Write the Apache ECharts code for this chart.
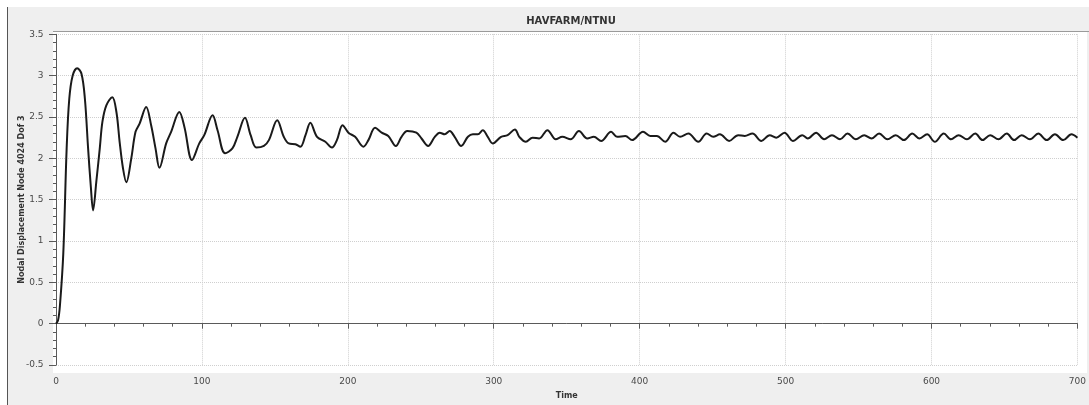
<!DOCTYPE html>
<html>
<head>
<meta charset="utf-8">
<script src="https://cdn.jsdelivr.net/npm/echarts@6/dist/echarts.min.js"></script>
<style>
html,body{margin:0;padding:0;background:#fff;}
#c{width:1089px;height:405px;}
</style>
</head>
<body>
<div id="c"></div>
<script>
const titleText = 'HAVFARM/NTNU';
const xName = 'Time';
const yName = 'Nodal Displacement Node 4024 Dof 3';

const timeValues = [
  0, 1.4, 2.7, 5, 7.3, 9.1, 11.4, 14.5, 17.5, 19.8, 22, 23.9, 25.4, 27.7, 30, 31.8, 34.5, 38.6,
  41.4, 43.6, 45.9, 48.2, 51.6, 54.5, 57.3, 61.8, 65.2, 68.2, 70.9,
  75.5, 78.9, 84.5, 88, 93.2, 98.2, 101.6, 107.3, 110.7, 115.9, 120.9, 124.3, 129.5, 133.4, 137.3,
  142.5, 145.9, 151.6, 156.1, 159.5, 164.1, 167.5, 171, 174.3, 178.9, 184.6, 189.1, 192.5, 196.4, 200.4,
  205, 210.7, 214.1, 218.7, 223.2, 227.7, 232.9, 236.8, 240.7, 247, 250.5, 255, 259.6, 263, 266.4,
  269.8, 273.2, 277.7, 282.3, 285.7, 289.1, 292.5, 295.9, 299.3, 305, 309.5, 314.5, 317.5, 322,
  326.6, 331.1, 336.8,
  342.5, 347, 352.7, 358.4, 364.1, 368.6, 373.6, 380.4, 384.5, 390.2, 394.8, 402.3, 407.3, 411.8,
  417.5, 423.2, 427.7, 433.4, 440.2, 445.9, 450.4, 455, 461.3, 467.5, 472, 477.3, 483.4, 489.1,
  493.6, 499.3, 505, 511.4, 515.2, 520.9,
  526.4, 531.8, 537.3, 542.5, 548.2, 553.9, 558.9, 564.1, 569.8, 575.5, 581.1, 586.8, 591.8, 597.0,
  602.3, 608.4, 613.4, 618.6, 624.3, 630.0, 635.0, 640.2, 645.9, 651.6, 656.6, 661.8, 667.5, 673.2,
  678.9, 684.6, 690.3, 695.9, 700
];
const displacementValues = [
  0, 0.04, 0.22, 0.85, 2.12, 2.72, 3.0, 3.09, 3.02, 2.72, 2.12, 1.65, 1.37, 1.73, 2.12, 2.44, 2.64, 2.74,
  2.56, 2.20, 1.88, 1.71, 2.0, 2.32, 2.42, 2.62, 2.40, 2.12, 1.885,
  2.18, 2.32, 2.56, 2.38, 1.98, 2.18, 2.28, 2.52, 2.34, 2.06, 2.12, 2.26, 2.49, 2.28, 2.13,
  2.15, 2.22, 2.46, 2.26, 2.18, 2.17, 2.14, 2.28, 2.43, 2.26, 2.20, 2.13, 2.22, 2.40, 2.31,
  2.26, 2.14, 2.22, 2.37, 2.31, 2.27, 2.15, 2.26, 2.33, 2.31, 2.24, 2.15, 2.26, 2.31, 2.29,
  2.33, 2.26, 2.15, 2.26, 2.29, 2.29, 2.34, 2.26, 2.18, 2.26, 2.28, 2.35, 2.26, 2.20,
  2.25, 2.24, 2.34,
  2.23, 2.26, 2.23, 2.33, 2.24, 2.26, 2.21, 2.32, 2.26, 2.27, 2.22, 2.32, 2.27, 2.27,
  2.20, 2.31, 2.26, 2.30, 2.20, 2.30, 2.26, 2.29, 2.21, 2.28, 2.27, 2.30, 2.21, 2.28,
  2.25, 2.31, 2.21, 2.28, 2.24, 2.31,
  2.23, 2.28, 2.23, 2.30, 2.23, 2.28, 2.24, 2.30, 2.23, 2.28, 2.22, 2.30, 2.24, 2.29,
  2.20, 2.30, 2.23, 2.28, 2.23, 2.30, 2.22, 2.28, 2.23, 2.30, 2.22, 2.28, 2.23, 2.30,
  2.22, 2.29, 2.22, 2.29, 2.25
];

const seriesData = timeValues.map((t, i) => [t, displacementValues[i]]);

const chart = echarts.init(document.getElementById('c'), null, {renderer: 'canvas'});
const axisColor = '#5a5a5a';
const labelFont = {color: '#4a4a4a', fontSize: 9, fontFamily: 'DejaVu Sans'};

chart.setOption({
  animation: false,
  backgroundColor: '#ffffff',
  graphic: [
    {type: 'rect', z: -20, silent: true, shape: {x: 7, y: 7, width: 1082, height: 398}, style: {fill: '#efefef'}},
    {type: 'line', z: -19, silent: true, shape: {x1: 7.5, y1: 7, x2: 7.5, y2: 405}, style: {stroke: '#555', lineWidth: 1}},
    {type: 'rect', z: -18, silent: true, shape: {x: 53, y: 31.5, width: 1034, height: 341.5}, style: {fill: '#ffffff'}},
    {type: 'line', z: -17, silent: true, shape: {x1: 53, y1: 31.5, x2: 1089, y2: 31.5}, style: {stroke: '#9a9a9a', lineWidth: 1}}
  ],
  title: {
    text: titleText,
    left: 571, top: 16, padding: 0,
    textAlign: 'center',
    textStyle: {fontSize: 10, fontWeight: 'bold', color: '#333', fontFamily: 'DejaVu Sans'}
  },
  grid: {left: 56, right: 5.7, top: 34.3, bottom: 35, containLabel: false},
  xAxis: {
    type: 'value', min: 0, max: 700, interval: 100, offset: 3,
    name: xName, nameLocation: 'middle', nameGap: 24, nameMoveOverlap: false,
    nameTextStyle: {fontSize: 8, fontWeight: 'bold', color: '#333', fontFamily: 'DejaVu Sans'},
    axisLine: {show: true, lineStyle: {color: axisColor, width: 1}},
    axisTick: {show: true, length: 5, lineStyle: {color: axisColor}},
    minorTick: {show: true, splitNumber: 5, length: 3, lineStyle: {color: axisColor}},
    axisLabel: Object.assign({margin: 9}, labelFont),
    splitLine: {show: true, lineStyle: {color: '#cfcfcf', type: 'dotted', width: 1}},
    minorSplitLine: {show: false}
  },
  yAxis: {
    type: 'value', min: -0.5, max: 3.5, interval: 0.5, offset: 3.5,
    name: yName, nameLocation: 'middle', nameGap: 27, nameMoveOverlap: false,
    nameTextStyle: {fontSize: 8, fontWeight: 'bold', color: '#333', fontFamily: 'DejaVu Sans'},
    axisLine: {show: true, lineStyle: {color: axisColor, width: 1}},
    axisTick: {show: true, length: 7, lineStyle: {color: axisColor}},
    minorTick: {show: true, splitNumber: 5, length: 3, lineStyle: {color: axisColor}},
    axisLabel: Object.assign({margin: 9}, labelFont),
    splitLine: {show: true, lineStyle: {color: '#cfcfcf', type: 'dotted', width: 1}},
    minorSplitLine: {show: false}
  },
  series: [{
    type: 'line',
    data: seriesData,
    smooth: 0.35,
    showSymbol: false,
    lineStyle: {color: '#1a1a1a', width: 2},
    clip: true
  }]
});
</script>
</body>
</html>
